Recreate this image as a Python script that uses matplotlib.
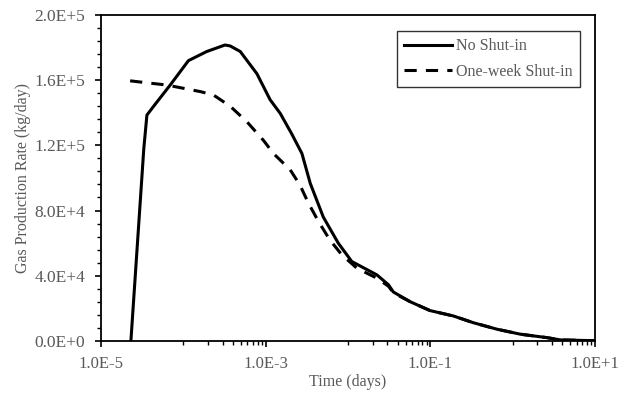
import matplotlib
matplotlib.use("Agg")
import matplotlib.pyplot as plt
from matplotlib.ticker import FixedLocator, FuncFormatter
import numpy as np

plt.rcParams['font.family'] = ['Liberation Serif', 'DejaVu Serif']

# No Shut-in (time in days, rate in kg/day)
t_no = [2.3e-5, 3.3e-5, 3.6e-5, 4.5e-5, 6.9e-5, 1.15e-4, 1.92e-4, 3.2e-4, 3.7e-4,
        4.9e-4, 7.8e-4, 1.13e-3, 1.5e-3, 2.07e-3, 2.75e-3, 3.47e-3, 5.0e-3, 7.6e-3,
        1.11e-2, 2.24e-2, 3.1e-2, 3.55e-2, 5.7e-2, 9.9e-2, 1.9e-1, 3.3e-1, 6.4e-1,
        1.24, 2.6, 3.8, 10.0]
q_no = [0, 118000, 138600, 145000, 157000, 172000, 177600, 181600, 181000,
        177600, 164000, 148000, 139600, 127000, 115000, 96700, 76000, 60000,
        48700, 40500, 34400, 30000, 24000, 18600, 15300, 11200, 7200,
        4100, 2000, 600, 100]

# One-week Shut-in
t_sh = [2.25e-5, 6.3e-5, 1.6e-4, 2.3e-4, 3.7e-4, 5.9e-4, 9.4e-4, 1.24e-3, 1.98e-3,
        2.6e-3, 3.3e-3, 4.4e-3, 6.0e-3, 8.4e-3, 1.28e-2, 2.24e-2, 3.1e-2, 3.55e-2,
        5.7e-2, 9.9e-2, 1.9e-1, 3.3e-1, 6.4e-1, 1.24, 2.6, 3.8, 10.0]
q_sh = [159600, 157000, 153000, 151000, 144000, 134500, 123000, 115000, 105000,
        95700, 84500, 73000, 62000, 52800, 44600, 38500, 33500, 29500,
        24000, 18600, 15300, 11200, 7200, 4100, 2000, 600, 100]

x_major = [1e-5, 1e-3, 1e-1, 1e1]
x_labels = ["1.0E-5", "1.0E-3", "1.0E-1", "1.0E+1"]
y_major = [0, 40000, 80000, 120000, 160000, 200000]
y_labels = ["0.0E+0", "4.0E+4", "8.0E+4", "1.2E+5", "1.6E+5", "2.0E+5"]

fig = plt.figure(figsize=(6.32, 3.95), dpi=100)
ax = fig.add_axes([0.160, 0.137, 0.7815, 0.825])

ax.plot(t_no, q_no, color='black', lw=2.2, label='No Shut-in')
ax.plot(t_sh, q_sh, color='black', lw=2.2, ls=(0, (4.0, 3.0)), label='One-week Shut-in')

ax.set_xscale('log')
ax.set_xlim(1e-5, 10)
ax.set_ylim(0, 200000)

ax.xaxis.set_major_locator(FixedLocator(x_major))
ax.set_xticklabels(x_labels)
minor_x = []
for d in [1e-5, 1e-3, 1e-1]:
    for k in range(1, 10):
        minor_x.append(d * 10 * k)
ax.xaxis.set_minor_locator(FixedLocator(minor_x))
ax.xaxis.set_minor_formatter(FuncFormatter(lambda v, p: ""))

ax.yaxis.set_major_locator(FixedLocator(y_major))
ax.set_yticklabels(y_labels)
ax.yaxis.set_minor_locator(FixedLocator(np.arange(0, 200001, 8000)))

ax.tick_params(axis='both', which='major', direction='out', length=4, width=1.2,
               colors='black', labelcolor='#595959')
ax.tick_params(axis='both', which='minor', direction='out', length=3, width=1.0,
               colors='black')
ax.tick_params(axis='x', which='major', labelsize=12, pad=7)
ax.tick_params(axis='y', which='major', labelsize=12.5, pad=7.5)

for s in ax.spines.values():
    s.set_color('black')
    s.set_linewidth(1.3)

ax.set_xlabel('Time (days)', color='#595959', fontsize=11.5, labelpad=1)
ax.set_ylabel('Gas Production Rate (kg/day)', color='#595959', fontsize=11.5, labelpad=2)

leg = ax.legend(loc='upper right', bbox_to_anchor=(0.970, 0.951), borderaxespad=0,
                fontsize=11.5, frameon=True, fancybox=False, edgecolor='black',
                handlelength=3.0, borderpad=0.45, labelspacing=0.6, handletextpad=0.25)
leg.get_frame().set_linewidth(1.0)
for t in leg.get_texts():
    t.set_color('#595959')

fig.savefig('out.png', dpi=100)
